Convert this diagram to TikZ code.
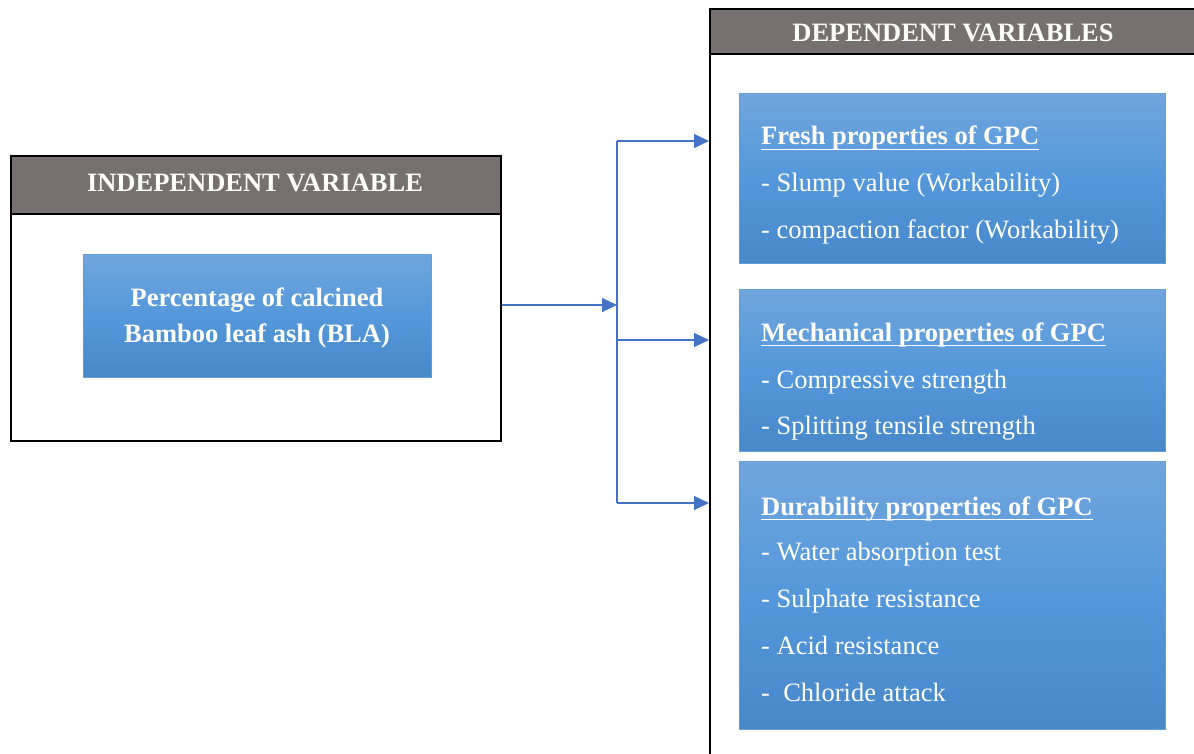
\documentclass[tikz,border=0pt]{standalone}
\usepackage{fontspec}
\setmainfont{Liberation Serif}
\usetikzlibrary{arrows.meta}
\definecolor{hdrgray}{RGB}{118,113,112}
\definecolor{arrblue}{RGB}{68,114,196}
\definecolor{btop}{RGB}{112,165,221}
\definecolor{bmid}{RGB}{84,152,219}
\definecolor{bbot}{RGB}{71,136,201}
\definecolor{bedge}{RGB}{100,158,216}
\begin{document}
\begin{tikzpicture}[x=1pt,y=-1pt,
 outer/.style={draw=black,line width=1.6pt,fill=white,anchor=north west,inner sep=0},
 hdr/.style={draw=black,line width=1.6pt,fill=hdrgray,anchor=north west,inner sep=0},
 bluebox/.style={draw=bedge,line width=1pt,top color=btop,bottom color=bbot,middle color=bmid,anchor=north west,inner sep=0},
 txt/.style={text=white,font=\fontsize{26.5}{32}\selectfont,inner sep=0,anchor=base west},
 btxt/.style={text=white,font=\fontsize{26.5}{32}\selectfont\bfseries,inner sep=0,anchor=base west},
 arr/.style={draw=arrblue,line width=1.2pt,-{Triangle[length=15pt,width=14pt]}},
 ln/.style={draw=arrblue,line width=1.2pt},
 ul/.style={draw=white,line width=1.8pt}]
\useasboundingbox (0,0) rectangle (1194,754);
\clip (0,0) rectangle (1194,754);

% left box
\node[outer,minimum width=490pt,minimum height=285pt] (indep) at (10,155) {};
\node[hdr,minimum width=490pt,minimum height=58pt] (indephdr) at (10,155) {};
\node[btxt,anchor=base] (indeptitle) at (255,192) {INDEPENDENT VARIABLE};
\node[bluebox,minimum width=348pt,minimum height=123pt] (bla) at (83,254) {};
\node[btxt,anchor=base] (bla1) at (257,306) {Percentage of calcined};
\node[btxt,anchor=base] (bla2) at (257,342) {Bamboo leaf ash (BLA)};

% right box
\node[outer,minimum width=520pt,minimum height=780pt] (dep) at (709,8) {};
\node[hdr,minimum width=520pt,minimum height=45pt] (dephdr) at (709,8) {};
\node[btxt,anchor=base] (deptitle) at (953,42) {DEPENDENT VARIABLES};

% fresh
\node[bluebox,minimum width=426pt,minimum height=170pt] (fresh) at (739,93) {};
\node[btxt] (fh) at (761,145) {Fresh properties of GPC};
\draw[ul] ([yshift=-4.5pt]fh.base west) -- ([yshift=-4.5pt]fh.base east);
\node[txt] (f1) at (761,192) {- Slump value (Workability)};
\node[txt] (f2) at (761,238) {- compaction factor (Workability)};

% mechanical
\node[bluebox,minimum width=426pt,minimum height=162pt] (mech) at (739,289) {};
\node[btxt] (mh) at (761,341) {Mechanical properties of GPC};
\draw[ul] ([yshift=-4.5pt]mh.base west) -- ([yshift=-4.5pt]mh.base east);
\node[txt] (m1) at (761,388) {- Compressive strength};
\node[txt] (m2) at (761,434) {- Splitting tensile strength};

% durability
\node[bluebox,minimum width=426pt,minimum height=268pt] (dur) at (739,461) {};
\node[btxt] (dh) at (761,515) {Durability properties of GPC};
\draw[ul] ([yshift=-4.5pt]dh.base west) -- ([yshift=-4.5pt]dh.base east);
\node[txt] (d1) at (761,560) {- Water absorption test};
\node[txt] (d2) at (761,607) {- Sulphate resistance};
\node[txt] (d3) at (761,654) {- Acid resistance};
\node[txt] (d4) at (761,701) {-\ \ Chloride attack};

% connectors
\coordinate (j) at (617,305);
\coordinate (jt) at (617,141);
\coordinate (jm) at (617,340);
\coordinate (jb) at (617,503);
\draw[arr] (indep.east |- j) -- (j);
\draw[ln] (jt) -- (jb);
\draw[arr] (jt) -- (dep.west |- jt);
\draw[arr] (jm) -- (dep.west |- jm);
\draw[arr] (jb) -- (dep.west |- jb);
\end{tikzpicture}
\end{document}
